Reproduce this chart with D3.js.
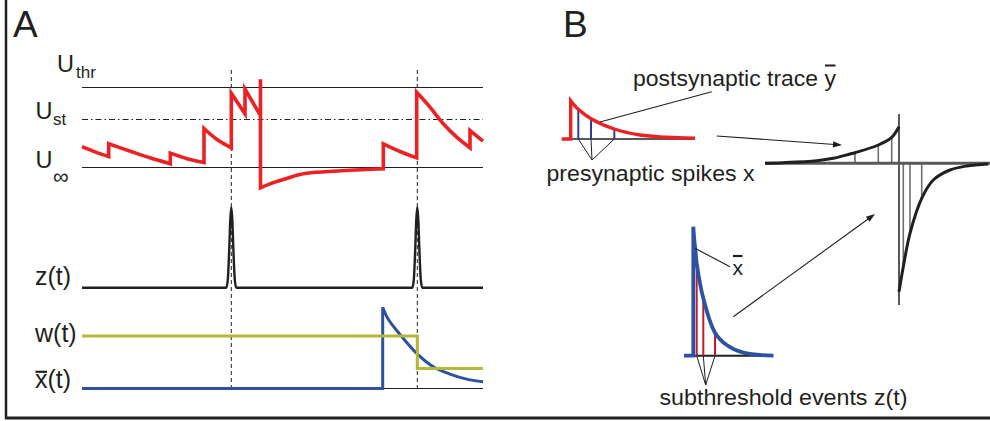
<!DOCTYPE html>
<html>
<head>
<meta charset="utf-8">
<script src="https://cdn.jsdelivr.net/npm/d3@7"></script>
<style>
  html, body { margin: 0; padding: 0; background: #fff; }
  svg { display: block; }
  text { font-family: "Liberation Sans", Arial, Helvetica, sans-serif; fill: #231f20; }
</style>
</head>
<body>
<svg id="fig" width="990" height="421"></svg>
<script>
// ---------------- Panel A ----------------
// Membrane potential, normalised so that U_inf = 0 and U_thr = 1.
// Repeated time stamps mark instantaneous jumps.
const membraneT = [0, 13, 26.7, 26.7, 51.3, 68, 88.3, 88.3, 105, 122, 122, 135, 149.3, 149.3, 163, 163, 178.5,
                   178.5, 178.5, 188, 201.3, 218, 234.7, 251, 284.7, 301.3, 301.3, 318, 334.7, 334.7, 348, 361.3,
                   374.7, 388, 388, 401];
const membraneU = [0.26, 0.195, 0.1375, 0.296, 0.19, 0.121, 0.046, 0.179, 0.11, 0.0625, 0.4875, 0.35, 0.246, 0.929,
                   0.671, 0.979, 0.65, 1.104, -0.254, -0.205, -0.15, -0.0875, -0.059, -0.046, -0.025, -0.016, 0.296,
                   0.2, 0.121, 0.94, 0.754, 0.546, 0.379, 0.246, 0.4625, 0.329];
// Reference levels: threshold, steady state, resting value
const levelValues = [1, 0.6, 0];
const levelNames = ["thr", "st", "\u221E"];

// Postsynaptic spike times (dashed markers)
const spikeTimes = [149.3, 335.3];

// Subthreshold event signal z(t)
const zT = [0, 144.3, 145.8, 147.3, 148.3, 149.3, 150.3, 151.3, 152.8, 154.3,
            330.3, 331.8, 333.3, 334.3, 335.3, 336.3, 337.3, 338.8, 340.3, 401];
const zV = [0, 0, 0.1, 0.5, 0.85, 1, 0.85, 0.5, 0.1, 0,
            0, 0.1, 0.5, 0.85, 1, 0.85, 0.5, 0.1, 0, 0];

// Synaptic weight w(t)
const wT = [0, 335.3, 335.3, 401];
const wV = [1, 1, 0.38, 0.38];

// Presynaptic trace x-bar(t)
const xbarT = [0, 300.7, 300.7, 306.3, 318, 334.7, 351.3, 368, 384.7, 401];
const xbarV = [0, 0, 1.549, 1.32, 1.03, 0.669, 0.413, 0.275, 0.178, 0.128];

const traceLabels = ["z(t)", "w(t)", "x(t)"];

// ---------------- Panel B ----------------
// Postsynaptic trace y-bar sampled by presynaptic spikes x
const postT = [-9, 0, 0, 7.6, 20.3, 43.6, 69.3, 96, 124.3];
const postV = [0, 0, 1, 0.775, 0.53, 0.261, 0.104, 0.044, 0.018];
const preSpikeT = [7.6, 20.3, 43.6];

// Learning window: potentiation branch (dt < 0) and depression branch (dt > 0)
const ltpT = [-134, -115.7, -82.3, -65.7, -49, -44, -20.7, -7.3, 0];
const ltpV = [0, 0.6, 2.6, 5, 9.3, 10.6, 18.3, 26, 36.6];
const ltdT = [0, 4.3, 11, 22.7, 34.3, 51, 67.7, 89.3];
const ltdV = [-128.4, -103.4, -70, -35, -16.7, -6.7, -2.7, -0.7];
const ltpSampleT = [-44, -20.7, -7.3];
const ltdSampleT = [4.3, 11, 22.7];

// Presynaptic trace x-bar sampled by subthreshold events z(t)
const xbarBT = [-9.3, 0, 0, 1, 2.4, 3.4, 10, 21.7, 33.4, 50, 80];
const xbarBV = [0, 0, 129, 115.7, 102.4, 92.4, 57.4, 23, 10.7, 3, 0];
const subEventT = [3.4, 10, 21.7];

// ---------------- helpers ----------------
const svg = d3.select("#fig");
const INK = "#231f20";
const RED = "#ed2024", BLUE = "#2d52a3", OLIVE = "#b4b737";
const smooth = d3.curveCatmullRom.alpha(0.5);

// Build one continuous path; equal consecutive times become vertical jumps,
// every run between jumps is drawn as a smooth curve.
function steppedPath(ts, vs, x, y) {
  const pts = ts.map((t, i) => [x(t), y(vs[i])]);
  const segs = [];
  let cur = [pts[0]];
  for (let i = 1; i < pts.length; i++) {
    if (ts[i] === ts[i - 1]) { segs.push(cur); cur = [pts[i]]; }
    else cur.push(pts[i]);
  }
  segs.push(cur);
  const gen = d3.line().curve(smooth);
  let d = "";
  segs.forEach((s, k) => {
    let sd = s.length > 1 ? gen(s) : `M${s[0][0]},${s[0][1]}`;
    if (k > 0) sd = "L" + sd.slice(1);
    d += sd;
  });
  return d;
}
const valueAt = (ts, vs, t) => vs[ts.lastIndexOf(t)];

function arrow(x1, y1, x2, y2) {
  const a = Math.atan2(y2 - y1, x2 - x1), L = 9, W = 3.2;
  svg.append("line").attr("x1", x1).attr("y1", y1)
    .attr("x2", x2 - Math.cos(a) * L * 0.8).attr("y2", y2 - Math.sin(a) * L * 0.8)
    .attr("stroke", INK).attr("stroke-width", 1.1);
  const p = [[x2, y2],
    [x2 - L * Math.cos(a) + W * Math.sin(a), y2 - L * Math.sin(a) - W * Math.cos(a)],
    [x2 - L * Math.cos(a) - W * Math.sin(a), y2 - L * Math.sin(a) + W * Math.cos(a)]];
  svg.append("path").attr("d", "M" + p.join("L") + "Z").attr("fill", INK);
}
function leader(x1, y1, x2, y2, w) {
  svg.append("line").attr("x1", x1).attr("y1", y1).attr("x2", x2).attr("y2", y2)
    .attr("stroke", INK).attr("stroke-width", w || 1.1);
}
function overbar(textSel, charIndex, dy, w) {
  const node = textSel.node();
  const s = node.getStartPositionOfChar(charIndex), e = node.getEndPositionOfChar(charIndex);
  svg.append("line").attr("x1", s.x + 0.5).attr("x2", e.x - 0.5)
    .attr("y1", s.y - dy).attr("y2", s.y - dy)
    .attr("stroke", INK).attr("stroke-width", w || 2);
}

// ---------------- frame ----------------
svg.append("rect").attr("width", 990).attr("height", 421).attr("fill", "#fff");
svg.append("line").attr("x1", 6).attr("x2", 6).attr("y1", 0).attr("y2", 419)
  .attr("stroke", INK).attr("stroke-width", 2.5);
svg.append("line").attr("x1", 5).attr("x2", 990).attr("y1", 418).attr("y2", 418)
  .attr("stroke", INK).attr("stroke-width", 3);

svg.append("text").attr("x", 13).attr("y", 36.7).attr("font-size", 37).text("A");
svg.append("text").attr("x", 563).attr("y", 36.7).attr("font-size", 37).text("B");

// ---------------- Panel A drawing ----------------
const xA = d3.scaleLinear().domain([0, 401]).range([82, 483]);
const yU = d3.scaleLinear().domain([0, 1]).range([167.5, 87.5]);
const yZ = d3.scaleLinear().domain([0, 1]).range([287.7, 207.3]);
const yW = d3.scaleLinear().domain([0, 1]).range([388.5, 336]);

// level lines
levelValues.forEach((v, i) => {
  svg.append("line").attr("x1", xA(0)).attr("x2", xA(401)).attr("y1", yU(v)).attr("y2", yU(v))
    .attr("stroke", INK).attr("stroke-width", 1)
    .attr("stroke-dasharray", levelNames[i] === "st" ? "6,3,1.5,3" : null);
});

// spike markers
spikeTimes.forEach(t => {
  svg.append("line").attr("x1", xA(t)).attr("x2", xA(t)).attr("y1", 70).attr("y2", yW(0))
    .attr("stroke", INK).attr("stroke-width", 1).attr("stroke-dasharray", "4,3");
});

// level labels: main letter followed by its subscript
const levelLabelPos = [[57, 71.7, 76, 77.5], [35.5, 119, 53, 124.5], [35.5, 168.3, 53, 184]];
levelNames.forEach((n, i) => {
  const p = levelLabelPos[i];
  svg.append("text").attr("x", p[0]).attr("y", p[1]).attr("font-size", 23.5).text("U");
  svg.append("text").attr("x", p[2]).attr("y", p[3]).attr("font-size", n === "\u221E" ? 22 : 17).text(n);
});

// membrane potential
svg.append("path").attr("d", steppedPath(membraneT, membraneU, xA, yU))
  .attr("fill", "none").attr("stroke", RED).attr("stroke-width", 3.6).attr("stroke-linejoin", "miter");

// z(t)
svg.append("path").attr("d", d3.line().curve(d3.curveMonotoneX)(zT.map((t, i) => [xA(t), yZ(zV[i])])))
  .attr("fill", "none").attr("stroke", INK).attr("stroke-width", 2.4);

// baseline under the trace after its onset
svg.append("line").attr("x1", xA(xbarT[1])).attr("x2", xA(401)).attr("y1", yW(0)).attr("y2", yW(0))
  .attr("stroke", INK).attr("stroke-width", 1);

// x-bar(t)
svg.append("path").attr("d", steppedPath(xbarT, xbarV, xA, yW))
  .attr("fill", "none").attr("stroke", BLUE).attr("stroke-width", 3);

// w(t)
svg.append("path").attr("d", steppedPath(wT, wV, xA, yW))
  .attr("fill", "none").attr("stroke", OLIVE).attr("stroke-width", 3);

// trace labels
const traceLabelY = [285, 341.7, 388.3];
traceLabels.forEach((s, i) => {
  const t = svg.append("text").attr("x", 35).attr("y", traceLabelY[i]).attr("font-size", 25).text(s);
  if (i === 2) overbar(t, 0, 16.5, 2.2);
});

// ---------------- Panel B drawing ----------------
// postsynaptic trace sampled by presynaptic spikes
const pX = d3.scaleLinear().domain([0, 125]).range([570.7, 695.7]);
const pY = d3.scaleLinear().domain([0, 1]).range([139, 100.7]);
svg.append("line").attr("x1", pX(0)).attr("x2", pX(124.3)).attr("y1", pY(0)).attr("y2", pY(0))
  .attr("stroke", INK).attr("stroke-width", 1.6);
preSpikeT.forEach(t => {
  svg.append("line").attr("x1", pX(t)).attr("x2", pX(t)).attr("y1", pY(0)).attr("y2", pY(valueAt(postT, postV, t)))
    .attr("stroke", "#2b3f98").attr("stroke-width", 2);
});
svg.append("path").attr("d", steppedPath(postT, postV, pX, pY))
  .attr("fill", "none").attr("stroke", RED).attr("stroke-width", 3.4);
preSpikeT.forEach(t => leader(pX(t), pY(0), 592, 160, 1));
leader(600, 122, 711.7, 91.7);

const postLabel = svg.append("text").attr("x", 633).attr("y", 86).attr("font-size", 22)
  .attr("textLength", 203).attr("lengthAdjust", "spacingAndGlyphs").text("postsynaptic trace y");
overbar(postLabel, 19, 20.5, 2);
svg.append("text").attr("x", 546.5).attr("y", 180.7).attr("font-size", 22)
  .attr("textLength", 208).attr("lengthAdjust", "spacingAndGlyphs").text("presynaptic spikes x");

arrow(716.7, 136, 842, 145);

// learning window
const sX = d3.scaleLinear().domain([-134, 89.3]).range([765, 988.3]);
const sY = d3.scaleLinear().domain([-130, 50]).range([293.3, 113.3]);
ltpSampleT.forEach(t => {
  svg.append("line").attr("x1", sX(t)).attr("x2", sX(t)).attr("y1", sY(0)).attr("y2", sY(valueAt(ltpT, ltpV, t)))
    .attr("stroke", "#6d6e71").attr("stroke-width", 1.6);
});
ltdSampleT.forEach(t => {
  svg.append("line").attr("x1", sX(t)).attr("x2", sX(t)).attr("y1", sY(0)).attr("y2", sY(valueAt(ltdT, ltdV, t)))
    .attr("stroke", "#6d6e71").attr("stroke-width", 1.6);
});
svg.append("line").attr("x1", sX(-134)).attr("x2", 990).attr("y1", sY(0)).attr("y2", sY(0))
  .attr("stroke", "#58595b").attr("stroke-width", 3);
svg.append("line").attr("x1", sX(0)).attr("x2", sX(0)).attr("y1", sY(49.3)).attr("y2", sY(-141.7))
  .attr("stroke", "#58595b").attr("stroke-width", 2);
const lineS = d3.line().curve(smooth);
svg.append("path").attr("d", lineS(ltpT.map((t, i) => [sX(t), sY(ltpV[i])])))
  .attr("fill", "none").attr("stroke", INK).attr("stroke-width", 3);
svg.append("path").attr("d", lineS(ltdT.map((t, i) => [sX(t), sY(ltdV[i])])))
  .attr("fill", "none").attr("stroke", INK).attr("stroke-width", 3);

// presynaptic trace sampled by subthreshold events
const bX = d3.scaleLinear().domain([-9.3, 80]).range([684, 773.3]);
const bY = d3.scaleLinear().domain([0, 129]).range([355.7, 226.7]);
svg.append("line").attr("x1", bX(0)).attr("x2", bX(80)).attr("y1", bY(0)).attr("y2", bY(0))
  .attr("stroke", INK).attr("stroke-width", 2);
subEventT.forEach(t => {
  svg.append("line").attr("x1", bX(t)).attr("x2", bX(t)).attr("y1", bY(0)).attr("y2", bY(valueAt(xbarBT, xbarBV, t)))
    .attr("stroke", "#be1e2d").attr("stroke-width", 2);
});
svg.append("path").attr("d", steppedPath(xbarBT, xbarBV, bX, bY))
  .attr("fill", "none").attr("stroke", BLUE).attr("stroke-width", 3.8);
subEventT.forEach(t => leader(bX(t), bY(0), 705.7, 385, 1));
leader(695, 248.3, 730, 266.7);
const xbLabel = svg.append("text").attr("x", 732.5).attr("y", 275).attr("font-size", 21).text("x");
overbar(xbLabel, 0, 19, 2.2);
svg.append("text").attr("x", 659.5).attr("y", 405).attr("font-size", 22)
  .attr("textLength", 248).attr("lengthAdjust", "spacingAndGlyphs").text("subthreshold events z(t)");

arrow(733.3, 316.7, 875, 214);
</script>
</body>
</html>
